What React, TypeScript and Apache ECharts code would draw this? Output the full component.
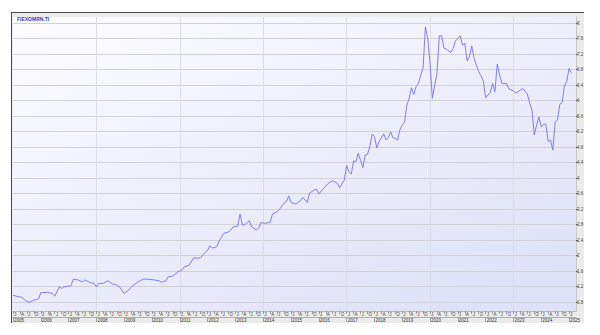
import React, { useEffect, useRef } from "react";
import * as echarts from "echarts";

const TITLE = "FIEXOMRN.TI";

const dates: string[] = [
  "2005-01","2005-03","2005-05","2005-06","2005-08","2005-10","2005-12",
  "2006-01","2006-04","2006-06","2006-07","2006-09","2006-10","2006-11",
  "2007-02","2007-03","2007-05","2007-07","2007-08","2007-10","2007-12",
  "2008-01","2008-02","2008-04","2008-06","2008-08","2008-09","2008-11",
  "2009-01","2009-03","2009-05","2009-07","2009-09","2009-11",
  "2010-02","2010-04","2010-05","2010-07","2010-08","2010-10","2010-12",
  "2011-02","2011-03","2011-05","2011-07","2011-09","2011-10",
  "2012-01","2012-02","2012-03","2012-05","2012-06","2012-08","2012-10","2012-11","2012-12",
  "2013-02","2013-03","2013-04","2013-05","2013-07","2013-08","2013-10","2013-11","2013-12",
  "2014-02","2014-04","2014-05","2014-07","2014-08","2014-10","2014-11","2014-12",
  "2015-01","2015-03","2015-05","2015-06","2015-08","2015-09","2015-11","2015-12",
  "2016-01","2016-03","2016-05","2016-07","2016-09","2016-10","2016-12",
  "2017-01","2017-02","2017-03","2017-04","2017-05","2017-06","2017-07","2017-08","2017-09","2017-10","2017-11","2017-12",
  "2018-01","2018-02","2018-03","2018-05","2018-06","2018-07","2018-08","2018-09","2018-10","2018-11","2018-12",
  "2019-01","2019-02","2019-03","2019-04","2019-05","2019-06","2019-07","2019-08","2019-09","2019-10","2019-11","2019-12",
  "2020-01","2020-02","2020-04","2020-05","2020-06","2020-07","2020-08","2020-10","2020-11","2020-12",
  "2021-02","2021-03","2021-04","2021-05","2021-06","2021-07","2021-08","2021-10","2021-11","2021-12",
  "2022-01","2022-03","2022-04","2022-05","2022-06","2022-07","2022-08","2022-10","2022-11",
  "2023-01","2023-02","2023-05","2023-07","2023-08","2023-09","2023-10","2023-11","2023-12",
  "2024-01","2024-02","2024-03","2024-04","2024-05","2024-06","2024-07","2024-08","2024-09","2024-10","2024-11","2024-12",
  "2025-01","2025-02",
];

const values: number[] = [
  0.98,0.94,0.92,0.85,0.79,0.85,0.88,
  1.04,1.05,1.02,0.95,1.19,1.15,1.19,
  1.22,1.39,1.37,1.32,1.37,1.31,1.28,
  1.19,1.28,1.28,1.35,1.26,1.26,1.19,
  1.02,1.11,1.24,1.32,1.39,1.39,
  1.37,1.35,1.31,1.35,1.45,1.47,1.57,
  1.63,1.71,1.75,1.94,1.93,1.95,
  2.14,2.25,2.19,2.23,2.38,2.57,2.61,2.66,2.74,
  2.76,3.07,2.79,2.79,2.90,2.74,2.66,2.70,2.85,
  2.83,2.86,3.07,3.13,3.19,3.35,3.39,3.54,
  3.37,3.33,3.41,3.50,3.37,3.61,3.69,3.71,
  3.59,3.73,3.86,3.93,3.86,3.75,3.95,
  4.32,4.16,4.10,4.44,4.42,4.64,4.46,4.27,4.59,4.61,4.81,5.13,
  5.07,4.78,4.94,5.14,4.98,5.04,5.19,5.04,5.02,4.98,5.24,
  5.37,5.44,5.88,6.06,6.33,6.16,6.36,6.44,6.66,6.83,7.90,7.61,
  6.97,6.06,6.71,7.67,7.67,7.35,7.33,7.24,7.35,7.54,
  7.67,7.43,7.48,7.02,7.13,7.41,7.09,6.74,6.64,6.50,
  6.07,6.21,6.44,6.23,6.94,6.66,6.44,6.44,6.30,
  6.25,6.19,6.31,6.17,5.93,5.75,5.11,5.37,5.57,
  5.32,5.39,5.39,4.94,4.98,4.72,5.45,5.50,5.90,5.95,6.37,6.49,
  6.83,6.70,
];

const yTicks: number[] = [0.8,1.2,1.6,2,2.4,2.8,3.2,3.6,4,4.4,4.8,5.2,5.6,6,6.4,6.8,7.2,7.6,8];
const years: number[] = [2005,2006,2007,2008,2009,2010,2011,2012,2013,2014,2015,2016,2017,2018,2019,2020,2021,2022,2023,2024,2025];
const quarterLetters: string[] = ["J", "A", "J", "O"];
const gridYears: number[] = [2008, 2011, 2014, 2017, 2020, 2023];

// "YYYY-MM" -> fractional year (month start)
const toYear = (d: string) => {
  const [y, m] = d.split("-").map(Number);
  return y + (m - 1) / 12;
};

export default function App() {
  const ref = useRef<HTMLDivElement>(null);
  useEffect(() => {
    if (!ref.current) return;
    const chart = echarts.init(ref.current, null, { renderer: "svg" });
    const quarterVals: number[] = [];
    years.forEach((y) => {
      for (let q = 0; q < 4; q++) {
        const t = y + q * 0.25;
        if (t <= 2025.01) quarterVals.push(t);
      }
    });
    const data = dates.map((d, i) => [toYear(d), values[i]]);
    const font = "Liberation Sans";
    chart.setOption({
      animation: false,
      title: {
        text: TITLE,
        left: 12,
        top: 11.5,
        textStyle: { fontSize: 5, fontWeight: "bold", color: "#2a3ccf", fontFamily: font },
      },
      grid: {
        left: 13,
        right: 24,
        top: 17,
        bottom: 24,
        show: true,
        borderWidth: 0,
        backgroundColor: new echarts.graphic.LinearGradient(0, 0, 0.8, 1, [
          { offset: 0, color: "#fdfdff" },
          { offset: 1, color: "#dfe1f7" },
        ]),
      },
      xAxis: [
        {
          type: "value",
          min: 2005,
          max: 2025.25,
          position: "bottom",
          axisLine: { show: true, lineStyle: { color: "#b8b8b8", width: 1 } },
          axisTick: { show: true, customValues: quarterVals, length: 3, lineStyle: { color: "#999" } },
          axisLabel: {
            customValues: quarterVals,
            formatter: (v: number) => quarterLetters[Math.round((v - Math.floor(v + 1e-6)) * 4) % 4],
            fontSize: 4.5,
            color: "#444",
            margin: 1,
            align: "left",
            padding: [0, 0, 0, 1],
            fontFamily: font,
          },
          splitLine: { show: false },
        },
        {
          type: "value",
          min: 2005,
          max: 2025.25,
          position: "bottom",
          offset: 6,
          axisLine: { show: true, lineStyle: { color: "#a0a0a0", width: 0.8 } },
          axisTick: { show: true, customValues: years, length: 5, lineStyle: { color: "#a0a0a0" } },
          axisLabel: {
            customValues: years,
            formatter: (v: number) => String(Math.round(v)),
            fontSize: 4.5,
            color: "#333",
            margin: 1,
            align: "left",
            padding: [0, 0, 0, 1],
            fontFamily: font,
          },
          splitLine: { show: false },
        },
      ],
      yAxis: {
        type: "value",
        position: "right",
        min: 0.568,
        max: 8.155,
        axisLine: { show: true, lineStyle: { color: "#c8c8c8" } },
        axisTick: { show: true, customValues: yTicks, length: 2, lineStyle: { color: "#666" } },
        axisLabel: {
          customValues: yTicks,
          formatter: (v: number) => String(Math.round(v * 10) / 10),
          fontSize: 4.5,
          color: "#444",
          margin: 1,
          fontFamily: font,
        },
        splitLine: { show: false },
      },
      series: [
        {
          type: "line",
          xAxisIndex: 0,
          data,
          showSymbol: false,
          symbol: "none",
          lineStyle: { color: "#7172f2", width: 0.9 },
          markLine: {
            silent: true,
            symbol: "none",
            label: { show: false },
            lineStyle: { color: "#d2d2d6", type: "solid", width: 1 },
            data: [
              ...yTicks.map((v) => ({ yAxis: v })),
              ...gridYears.map((y) => ({ xAxis: y, lineStyle: { color: "#dcdce4" } })),
            ],
            z: 1,
          },
          z: 3,
        },
      ],
    });
    return () => chart.dispose();
  }, []);
  return (
    <div style={{ position: "absolute", left: 0, top: 0, width: 600, height: 335, background: "#fff" }}>
      <div
        style={{
          position: "absolute",
          left: 11,
          top: 12,
          width: 573,
          height: 311,
          background: "#ebebeb",
          borderTop: "1px solid #4a4a4a",
          borderLeft: "1px solid #4a4a4a",
          boxSizing: "border-box",
        }}
      />
      <div ref={ref} style={{ position: "absolute", left: 0, top: 0, width: 600, height: 335 }} />
    </div>
  );
}
